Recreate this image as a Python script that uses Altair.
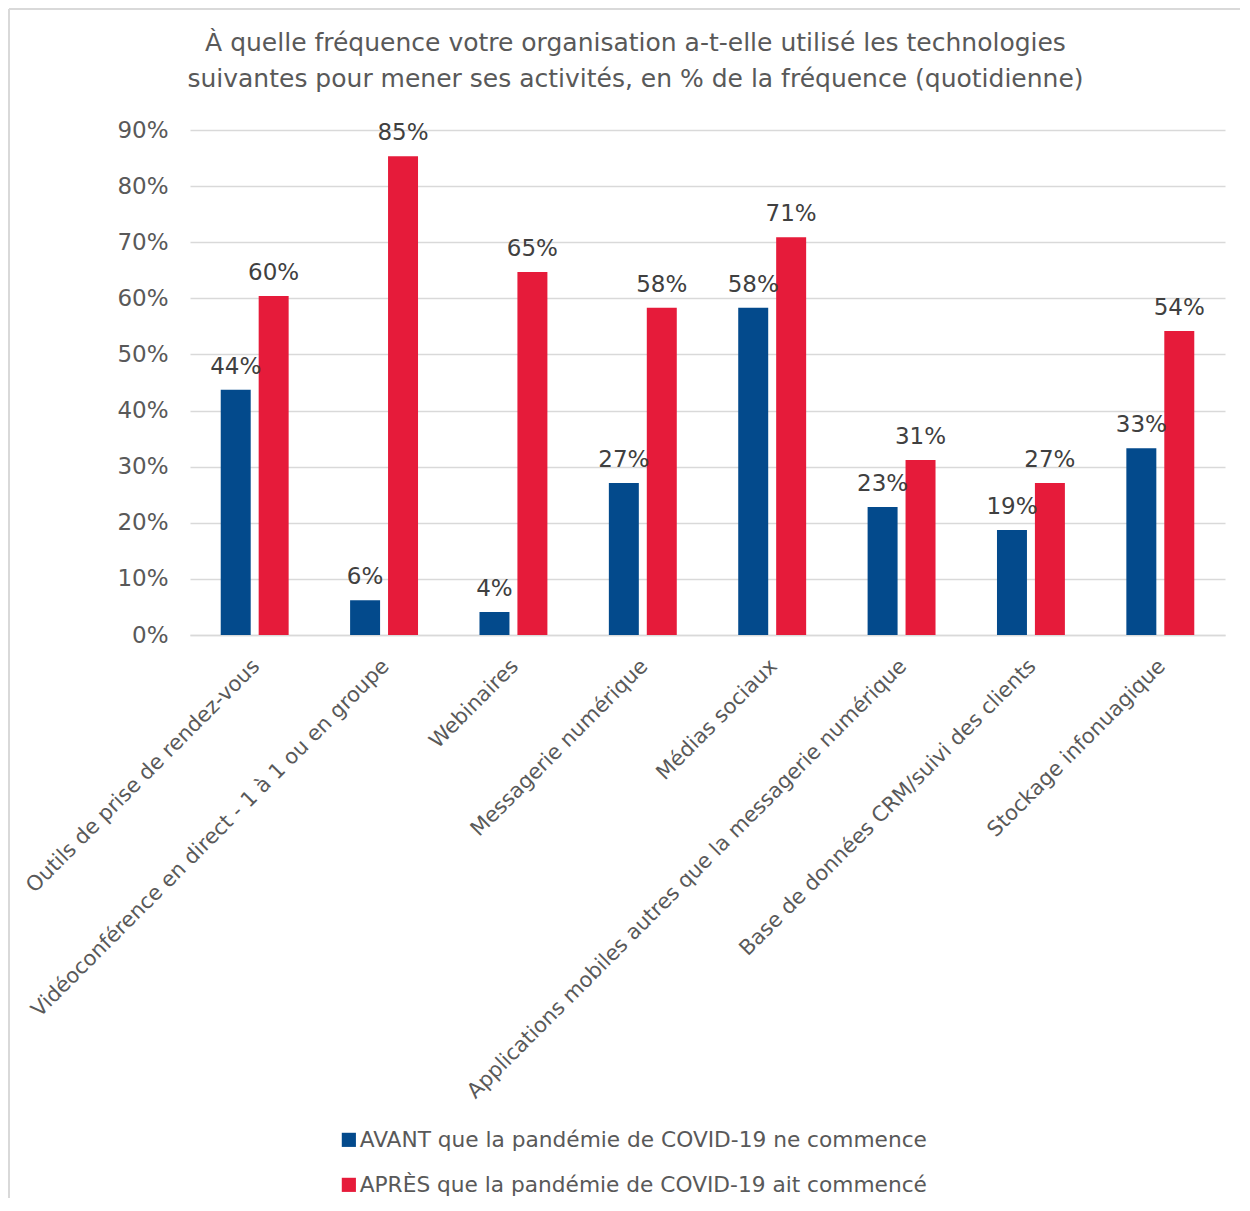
import altair as alt
import pandas as pd

categories = [
    "Outils de prise de rendez-vous",
    "Vidéoconférence en direct - 1 à 1 ou en groupe",
    "Webinaires",
    "Messagerie numérique",
    "Médias sociaux",
    "Applications mobiles autres que la messagerie numérique",
    "Base de données CRM/suivi des clients",
    "Stockage infonuagique",
]
series = [
    "AVANT que la pandémie de COVID-19 ne commence",
    "APRÈS que la pandémie de COVID-19 ait commencé",
]
avant = [43.7, 6.2, 4.1, 27.1, 58.3, 22.8, 18.7, 33.3]
apres = [60.4, 85.3, 64.7, 58.3, 70.9, 31.2, 27.1, 54.2]
colors = ["#034A8C", "#E61B3A"]

rows = []
for i, c in enumerate(categories):
    rows.append({"cat": c, "series": series[0], "value": avant[i] / 100})
    rows.append({"cat": c, "series": series[1], "value": apres[i] / 100})
df = pd.DataFrame(rows)

FONT = "DejaVu Sans"

base = alt.Chart(df).encode(
    x=alt.X(
        "cat:N",
        sort=categories,
        scale=alt.Scale(paddingInner=0.475, paddingOuter=0.2375),
        axis=alt.Axis(
            title=None,
            labelAngle=-45,
            labelFontSize=21,
            labelColor="#595959",
            labelFont=FONT,
            labelLimit=1000,
            labelPadding=20,
            labelOffset=-6,
            ticks=False,
            domainColor="#d9d9d9",
            domainWidth=1.5,
        ),
    ),
    xOffset=alt.XOffset("series:N", sort=series, scale=alt.Scale(paddingInner=0.21)),
    y=alt.Y(
        "value:Q",
        scale=alt.Scale(domain=[0, 0.9], nice=False),
        axis=alt.Axis(
            title=None,
            values=[0, 0.1, 0.2, 0.3, 0.4, 0.5, 0.6, 0.7, 0.8, 0.9],
            format=".0%",
            domain=False,
            ticks=False,
            labelFontSize=23,
            labelColor="#595959",
            labelFont=FONT,
            labelPadding=22,
            gridColor="#d9d9d9",
            gridWidth=1.5,
        ),
    ),
)

bars = base.mark_bar().encode(
    color=alt.Color(
        "series:N",
        sort=series,
        scale=alt.Scale(domain=series, range=colors),
        legend=alt.Legend(
            title=None,
            orient="none",
            legendX=148,
            legendY=999,
            direction="vertical",
            symbolType="square",
            symbolSize=200,
            symbolStrokeWidth=0,
            labelFontSize=21.7,
            labelColor="#595959",
            labelFont=FONT,
            labelLimit=1000,
            labelOffset=0,
            rowPadding=22,
        ),
    )
)

text = base.mark_text(
    baseline="alphabetic", dy=-16, fontSize=23, color="#404040", font=FONT
).encode(text=alt.Text("value:Q", format=".0%"))

# decorative outer frame (left and top edges, as in the reference)
frame_df = pd.DataFrame({"k": [0]})
frame_left = alt.Chart(frame_df).mark_rule(color="#d9d9d9", strokeWidth=2).encode(
    x=alt.value(-181), y=alt.value(-121), y2=alt.value(1068)
)
frame_top = alt.Chart(frame_df).mark_rule(color="#d9d9d9", strokeWidth=2).encode(
    x=alt.value(-181), x2=alt.value(1050), y=alt.value(-121)
)

chart = (
    alt.layer(bars, text, frame_left, frame_top)
    .properties(
        width=1035,
        height=505,
        padding={"left": 0, "top": 0, "right": 0, "bottom": 0},
        title=alt.TitleParams(
            text=[
                "À quelle fréquence votre organisation a-t-elle utilisé les technologies",
                "suivantes pour mener ses activités, en % de la fréquence (quotidienne)",
            ],
            fontSize=25,
            font=FONT,
            color="#595959",
            fontWeight="normal",
            anchor="middle",
            frame="group",
            dx=-72,
            offset=-84,
            lineHeight=36,
        ),
    )
    .configure_view(stroke=None)
)

chart.save("out.html", embed_options={"renderer": "svg", "actions": False})
